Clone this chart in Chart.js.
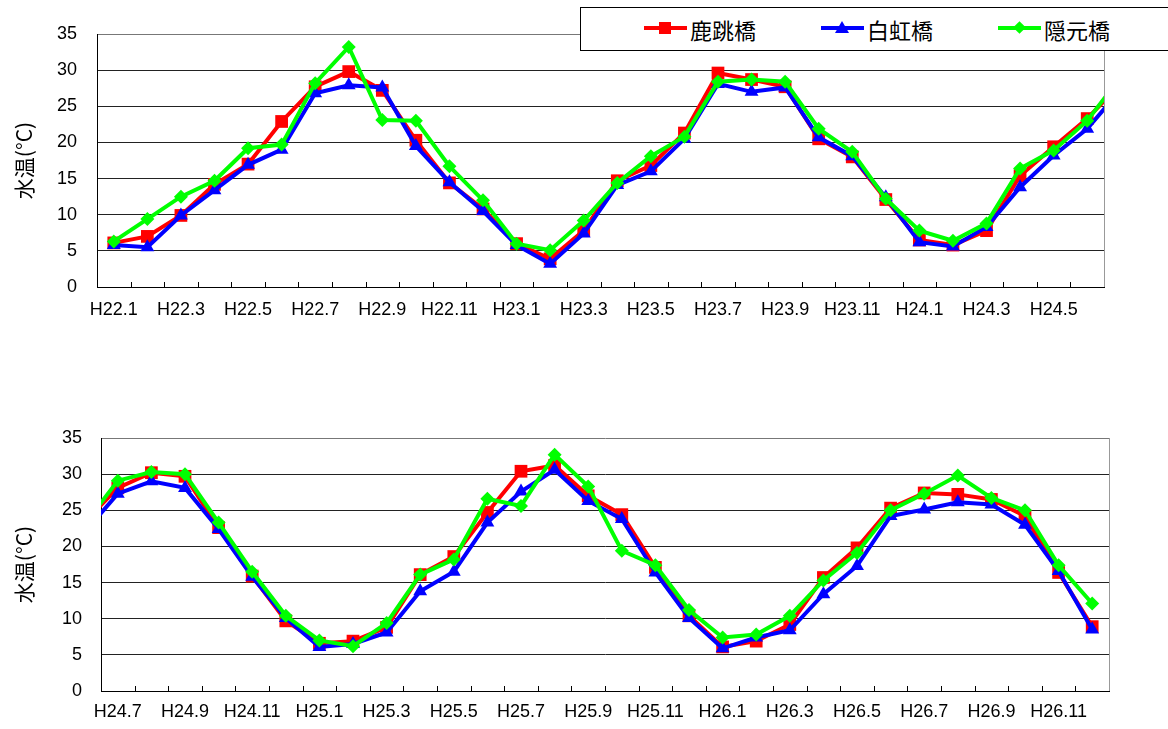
<!DOCTYPE html>
<html>
<head>
<meta charset="utf-8">
<script src="https://cdn.jsdelivr.net/npm/chart.js@4.4.0/dist/chart.umd.min.js"></script>
<style>
  body { margin: 0; background: #fff; width: 1168px; height: 729px; overflow: hidden; position: relative; }
  #topBox { position: absolute; left: 0; top: 0; width: 1168px; height: 335px; }
  #botBox { position: absolute; left: 0; top: 400px; width: 1168px; height: 329px; }
  #legend { position: absolute; left: 580px; top: 7px; width: 640px; height: 42px; border: 1px solid #000;
            background: #fff; z-index: 2; font-family: "Noto Sans CJK JP", sans-serif; font-size: 22px; color: #000; }
  .item { position: absolute; top: 0; height: 42px; width: 170px; }
  .item .ln { position: absolute; left: 0; top: 18px; width: 43px; height: 4px; }
  .item .mk { position: absolute; }
  .item span { position: absolute; left: 46px; top: 0; line-height: 42px; }
</style>
</head>
<body>
<div id="topBox"><canvas id="topChart"></canvas></div>
<div id="botBox"><canvas id="botChart"></canvas></div>
<div id="legend">
  <div class="item" style="left:63px"><div class="ln" style="background:#ff0000"></div>
    <div class="mk" style="left:15px;top:14px;width:12px;height:12px;background:#ff0000"></div><span>鹿跳橋</span></div>
  <div class="item" style="left:240px"><div class="ln" style="background:#0000ff"></div>
    <div class="mk" style="left:14px;top:13px;width:0;height:0;border-left:7px solid transparent;border-right:7px solid transparent;border-bottom:12px solid #0000ff"></div><span>白虹橋</span></div>
  <div class="item" style="left:417px"><div class="ln" style="background:#00ff00"></div>
    <div class="mk" style="left:17px;top:15px;width:9px;height:9px;background:#00ff00;transform:rotate(45deg)"></div><span>隠元橋</span></div>
</div>
<script>
// 月 (H22.1 〜 H26.12)
const months = [
  "H22.1","H22.2","H22.3","H22.4","H22.5","H22.6","H22.7","H22.8","H22.9","H22.10","H22.11","H22.12",
  "H23.1","H23.2","H23.3","H23.4","H23.5","H23.6","H23.7","H23.8","H23.9","H23.10","H23.11","H23.12",
  "H24.1","H24.2","H24.3","H24.4","H24.5","H24.6","H24.7","H24.8","H24.9","H24.10","H24.11","H24.12",
  "H25.1","H25.2","H25.3","H25.4","H25.5","H25.6","H25.7","H25.8","H25.9","H25.10","H25.11","H25.12",
  "H26.1","H26.2","H26.3","H26.4","H26.5","H26.6","H26.7","H26.8","H26.9","H26.10","H26.11","H26.12"
];

// 水温 (°C)
const shishitobi = [ // 鹿跳橋
  6.1, 7.0, 9.9, 14.2, 17.0, 22.9, 27.7, 29.8, 27.2, 20.3, 14.4, 10.8,
  6.0, 3.9, 7.8, 14.7, 16.8, 21.3, 29.6, 28.7, 27.7, 20.5, 18.0, 12.1,
  6.5, 5.8, 7.8, 15.4, 19.4, 23.3, 28.1, 30.2, 29.7, 22.6, 15.9, 9.7,
  6.6, 6.9, 8.8, 16.1, 18.6, 24.7, 30.4, 31.2, 27.0, 24.4, 17.1, 10.4,
  6.1, 6.9, 9.2, 15.7, 19.8, 25.3, 27.4, 27.2, 26.5, 24.2, 16.4, 8.9
];
const hakko = [ // 白虹橋
  5.8, 5.5, 9.9, 13.4, 16.9, 19.0, 26.8, 27.9, 27.6, 19.5, 14.5, 10.5,
  5.8, 3.2, 7.4, 14.1, 16.0, 20.5, 28.1, 27.0, 27.6, 20.7, 18.1, 12.4,
  6.2, 5.6, 8.3, 13.8, 18.2, 21.9, 27.3, 29.0, 28.1, 22.4, 15.8, 10.1,
  6.1, 6.5, 8.1, 13.8, 16.5, 23.3, 27.6, 30.6, 26.3, 23.8, 16.4, 10.1,
  5.9, 7.4, 8.4, 13.4, 17.3, 24.2, 25.1, 26.1, 25.8, 23.0, 16.6, 8.5
];
const ingen = [ // 隠元橋
  6.3, 9.4, 12.5, 14.7, 19.2, 19.7, 28.2, 33.2, 23.1, 23.0, 16.7, 12.0,
  6.0, 5.1, 9.2, 14.4, 18.1, 20.8, 28.4, 28.7, 28.4, 21.9, 18.7, 12.2,
  7.8, 6.4, 8.8, 16.4, 18.9, 23.0, 29.1, 30.3, 30.0, 23.3, 16.5, 10.4,
  7.0, 6.2, 9.4, 16.1, 18.2, 26.6, 25.6, 32.7, 28.3, 19.4, 17.4, 11.2,
  7.4, 7.8, 10.4, 15.3, 19.1, 25.0, 27.3, 29.8, 26.7, 25.0, 17.4, 12.1
];

const yTicks = { min: 0, max: 35, step: 5 };
const perPanel = 30;

Chart.defaults.font.family = '"Liberation Sans", Arial, sans-serif';
Chart.defaults.color = '#000';

// right edge of plot + short tick marks pointing up from the x axis
const frame = {
  id: 'frame',
  afterDraw(c) {
    const { ctx, chartArea: a } = c;
    const xs = c.scales.x;
    ctx.save();
    ctx.lineWidth = 1;
    ctx.strokeStyle = '#000';
    ctx.beginPath();
    xs.ticks.forEach((t, i) => {
      const px = Math.round(xs.getPixelForTick(i)) + 0.5;
      ctx.moveTo(px, a.bottom);
      ctx.lineTo(px, a.bottom - 5);
    });
    ctx.stroke();
    ctx.strokeStyle = '#999';
    ctx.beginPath();
    ctx.moveTo(Math.round(a.right) + 0.5, a.top);
    ctx.lineTo(Math.round(a.right) + 0.5, a.bottom);
    ctx.stroke();
    ctx.restore();
  }
};

function panel(id, first, o) {
  // one month either side so the line runs off the plot edge like the original
  const lo = Math.max(first - 1, 0), hi = Math.min(first + perPanel, months.length - 1);
  const pts = arr => {
    const out = [];
    for (let m = lo; m <= hi; m++) out.push({ x: m - first + 0.5, y: arr[m] });
    return out;
  };
  const ds = (label, arr, color, style, r, order) => ({
    label, data: pts(arr), borderColor: color, backgroundColor: color,
    borderWidth: 4, pointStyle: style, pointRadius: r, pointBorderWidth: 0,
    pointHoverRadius: r, tension: 0, order, clip: 0
  });
  return new Chart(document.getElementById(id), {
    type: 'line',
    data: {
      datasets: [
        ds('鹿跳橋', shishitobi, '#ff0000', 'rect', 9, 3),
        ds('白虹橋', hakko, '#0000ff', 'triangle', 8, 2),
        ds('隠元橋', ingen, '#00ff00', 'rectRot', 7, 1),
      ]
    },
    options: {
      responsive: true,
      maintainAspectRatio: false,
      animation: false,
      layout: { padding: { top: o.top, right: o.right, left: 0, bottom: 0 } },
      scales: {
        x: {
          type: 'linear', min: 0, max: perPanel,
          ticks: {
            stepSize: 1, autoSkip: false, maxRotation: 0, labelOffset: 16.8, padding: o.xPad,
            font: { size: 18 }, color: '#000',
            callback: v => (v % 2 === 0 && v < perPanel) ? months[first + v] : ''
          },
          grid: { display: false, drawTicks: false },
          border: { color: '#000', width: 1 },
          afterFit: s => { s.height = o.xHeight; }
        },
        y: {
          min: yTicks.min, max: yTicks.max,
          ticks: { stepSize: yTicks.step, padding: o.yPad, font: { size: 18 }, color: '#000' },
          grid: { color: c => (c.tick && c.tick.value === yTicks.max) ? '#777' : '#222', lineWidth: 1, drawTicks: false },
          border: { color: '#000', width: 1 },
          title: { display: true, text: '水温(°C)', color: '#000',
                   font: { size: 21, family: '"Noto Sans CJK JP", sans-serif' }, padding: { top: 11, bottom: 0 } },
          afterFit: s => { s.width = o.yWidth; }
        }
      },
      plugins: { legend: { display: false }, tooltip: { enabled: false } }
    },
    plugins: [frame]
  });
}

panel('topChart', 0, { top: 34, right: 64, yWidth: 97, xHeight: 48, xPad: 12, yPad: 20 });
panel('botChart', 30, { top: 38, right: 59, yWidth: 101, xHeight: 38, xPad: 10, yPad: 19 });
</script>
</body>
</html>
